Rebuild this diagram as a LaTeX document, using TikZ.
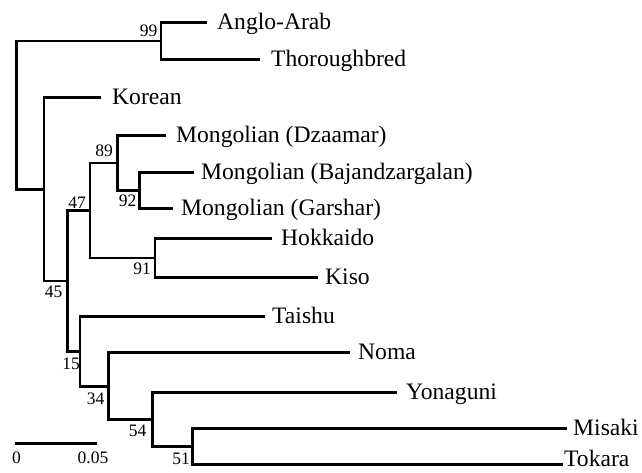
\documentclass[tikz,border=0pt]{standalone}
\usepackage{fontspec}
\setmainfont{Liberation Serif}
\begin{document}
\begin{tikzpicture}[x=1pt,y=-1pt,
  branch/.style={line width=2.6pt,line join=miter},
  taxon/.style={anchor=base west,inner sep=0pt,font=\fontsize{23.6}{28}\selectfont},
  boot/.style={anchor=center,inner sep=0pt,font=\fontsize{17.5}{20}\selectfont}]
\clip (0,0) rectangle (642,472);
\fill[white] (0,0) rectangle (642,472);
% internal nodes
\coordinate (root) at (16.5,115);
\coordinate (n99) at (161,40.8);
\coordinate (n45) at (44,189.3);
\coordinate (na) at (67.7,281);
\coordinate (n47) at (90,210.5);
\coordinate (n89) at (117.5,163.1);
\coordinate (n92) at (139.5,190.5);
\coordinate (n91) at (155,257.9);
\coordinate (n15) at (80,351.4);
\coordinate (n34) at (108.3,386.2);
\coordinate (n54) at (152.5,419.6);
\coordinate (n51) at (192.7,446.5);
% leaf ends
\coordinate (eAA) at (207,22.3);
\coordinate (eTh) at (260,59.3);
\coordinate (eKo) at (101,97.7);
\coordinate (eDz) at (166,135.7);
\coordinate (eBa) at (194,172.7);
\coordinate (eGa) at (173,208.3);
\coordinate (eHo) at (272,238.3);
\coordinate (eKi) at (318,277.5);
\coordinate (eTa) at (265,316.7);
\coordinate (eNo) at (350,352.7);
\coordinate (eYo) at (397,392.7);
\coordinate (eMi) at (567,428.5);
\coordinate (eTo) at (563,464.5);
% taxa
\node[taxon] (tAA) at (217,29.3) {Anglo-Arab};
\node[taxon] (tTh) at (271,66.3) {Thoroughbred};
\node[taxon] (tKo) at (112,104.7) {Korean};
\node[taxon] (tDz) at (176,142.7) {Mongolian (Dzaamar)};
\node[taxon] (tBa) at (201,179.7) {Mongolian (Bajandzargalan)};
\node[taxon] (tGa) at (181,215.3) {Mongolian (Garshar)};
\node[taxon] (tHo) at (281,245.3) {Hokkaido};
\node[taxon] (tKi) at (325,284.5) {Kiso};
\node[taxon] (tTa) at (272,323.5) {Taishu};
\node[taxon] (tNo) at (358,359.7) {Noma};
\node[taxon] (tYo) at (406,399.7) {Yonaguni};
\node[taxon] (tMi) at (573,435.5) {Misaki};
\node[taxon] (tTo) at (564,466.5) {Tokara};
% branches
\draw[branch] (root) |- (n99);
\draw[branch] (root) |- (n45);
\draw[branch] (n99) |- (eAA);
\draw[branch] (n99) |- (eTh);
\draw[branch] (n45) |- (eKo);
\draw[branch] (n45) |- (na);
\draw[branch] (na) |- (n47);
\draw[branch] (na) |- (n15);
\draw[branch] (n47) |- (n89);
\draw[branch] (n47) |- (n91);
\draw[branch] (n89) |- (eDz);
\draw[branch] (n89) |- (n92);
\draw[branch] (n92) |- (eBa);
\draw[branch] (n92) |- (eGa);
\draw[branch] (n91) |- (eHo);
\draw[branch] (n91) |- (eKi);
\draw[branch] (n15) |- (eTa);
\draw[branch] (n15) |- (n34);
\draw[branch] (n34) |- (eNo);
\draw[branch] (n34) |- (n54);
\draw[branch] (n54) |- (eYo);
\draw[branch] (n54) |- (n51);
\draw[branch] (n51) |- (eMi);
\draw[branch] (n51) |- (eTo);
% bootstrap values
\node[boot] (b99) at (148.5,31) {99};
\node[boot] (b89) at (104,151) {89};
\node[boot] (b92) at (127.5,201) {92};
\node[boot] (b47) at (77,202.5) {47};
\node[boot] (b91) at (142,269) {91};
\node[boot] (b45) at (53.5,291.5) {45};
\node[boot] (b15) at (71,364) {15};
\node[boot] (b34) at (95.5,398.5) {34};
\node[boot] (b54) at (137.5,431) {54};
\node[boot] (b51) at (181,458.5) {51};
% scale bar
\coordinate (s0) at (15,443.3);
\coordinate (s1) at (96.7,443.3);
\draw[branch] (s0) -- (s1);
\node[boot] (l0) at (16.5,457.5) {0};
\node[boot] (l1) at (93,457.5) {0.05};
\end{tikzpicture}
\end{document}
